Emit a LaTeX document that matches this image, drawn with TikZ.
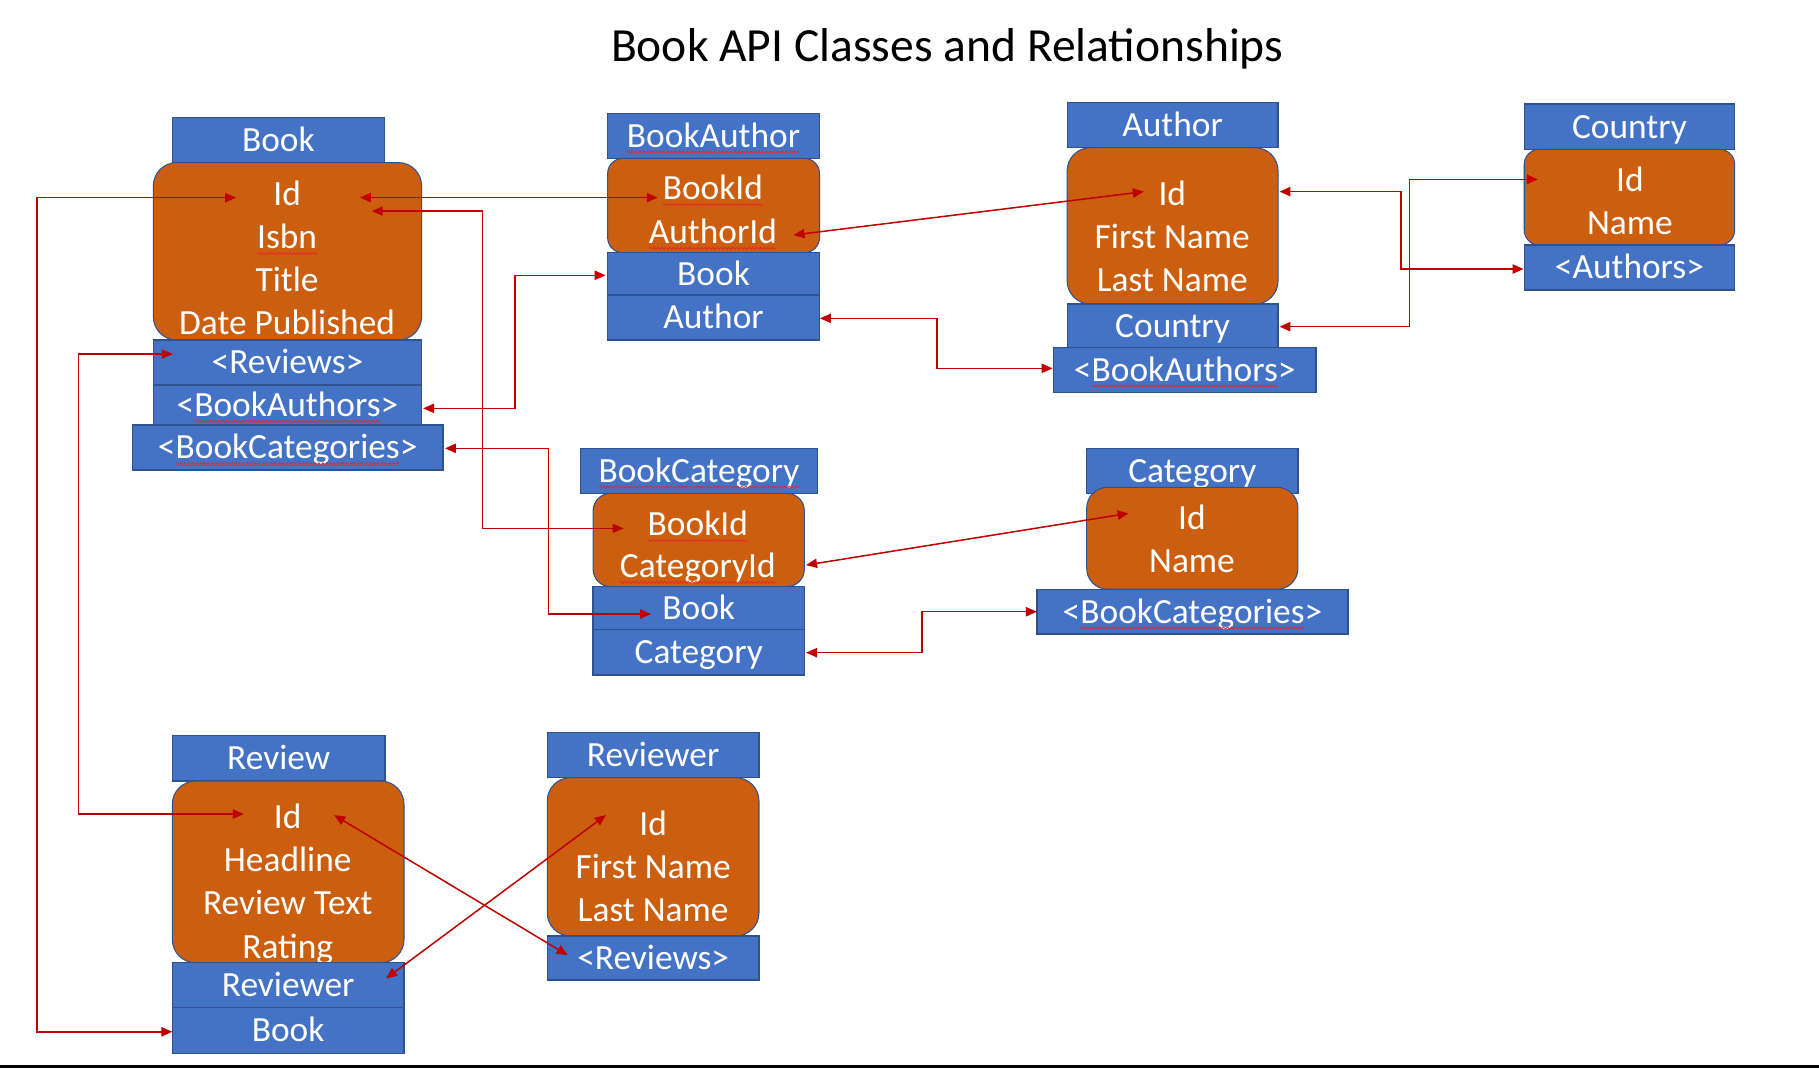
\documentclass[tikz,border=0pt]{standalone}
\usepackage{fontspec}
\setmainfont{Carlito}
\usetikzlibrary{arrows.meta,calc,decorations.pathmorphing}
\definecolor{ofblue}{HTML}{4472C4}
\definecolor{bdr}{HTML}{2F528F}
\definecolor{oforange}{HTML}{CB5F0F}
\definecolor{relred}{HTML}{C00000}
\definecolor{spellred}{HTML}{E8282A}
\newcommand{\fsz}{\fontsize{30.5pt}{37pt}\selectfont}
\newlength{\tmpw}
\newcommand{\measureword}[1]{%
  \settowidth{\tmpw}{\fsz #1}%
  \pgfmathsetmacro{\tmpv}{0.5*\tmpw}%
  \expandafter\xdef\csname sqw#1\endcsname{\tmpv}}
\newcommand{\squig}[2]{%
  \edef\sqhalf{\csname sqw#2\endcsname}%
  \draw[wavy] ($(#1)+(-\sqhalf,14)$) -- ($(#1)+(\sqhalf,14)$);}
\begin{document}
\measureword{Isbn}\measureword{BookAuthors}\measureword{BookCategories}%
\measureword{BookAuthor}\measureword{BookId}\measureword{AuthorId}%
\measureword{BookCategory}\measureword{CategoryId}%
\begin{tikzpicture}[x=1pt,y=-1pt,
  sec/.style 2 args={draw=bdr, fill=ofblue, line width=1.1pt, text=white, font=\fsz,
    inner sep=0pt, text height=22.6pt, text depth=3pt, minimum width=#1, minimum height=#2},
  body/.style 2 args={draw=bdr, fill=oforange, line width=0.9pt, rounded corners=20pt,
    inner sep=0pt, minimum width=#1, minimum height=#2},
  fld/.style={text=white, font=\fsz, inner sep=0pt, text height=22.6pt, text depth=3pt},
  rel/.style={draw=relred, line width=1.3pt, >={Triangle[length=9.5pt,width=8pt]}, <->},
  wavy/.style={draw=spellred, line width=0.7pt, decorate,
    decoration={snake, amplitude=0.9pt, segment length=3.4pt}}
]
\fill[white] (0,0) rectangle (1568,921);
\useasboundingbox (0,0) rectangle (1568,921);
\fill[black] (0,918.3) rectangle (1568,921);

\node[font=\fontsize{41pt}{48pt}\selectfont, inner sep=0pt, text height=30.3pt, text depth=4.1pt]
  (title) at (816.5,39.5) {Book API Classes and Relationships};

% ---------------- Book
\node[sec={182.3pt}{39.1pt}] (bk-h) at (240,120.6) {Book};
\node[body={231.2pt}{152.9pt}, rounded corners=20pt] (bk-b) at (247.8,216.6) {};
\node[fld] (bk-id) at (247.5,167) {Id};
\node[fld] (bk-isbn) at (247.5,204.5) {Isbn};
\node[fld] (bk-title) at (247.5,241.5) {Title};
\node[fld] (bk-date) at (247.5,278.5) {Date Published};
\node[sec={231.2pt}{38.8pt}] (bk-rev) at (247.8,312.5) {<Reviews>};
\node[sec={231.2pt}{34.5pt}] (bk-ba) at (247.8,349.2) {<BookAuthors>};
\node[sec={267.5pt}{38.8pt}] (bk-bc) at (248,385.8) {<BookCategories>};

% ---------------- BookAuthor
\node[sec={182.6pt}{38.8pt}] (ba-h) at (615.1,117.1) {BookAuthor};
\node[body={182.6pt}{81.3pt}, rounded corners=13pt] (ba-b) at (615.1,177.2) {};
\node[fld] (ba-bookid) at (614.5,162.5) {BookId};
\node[fld] (ba-authorid) at (614.5,200) {AuthorId};
\node[sec={182.6pt}{36.5pt}] (ba-book) at (615.1,236) {Book};
\node[sec={182.6pt}{38.8pt}] (ba-author) at (615.1,273.7) {Author};

% ---------------- Author
\node[sec={181.8pt}{38.8pt}] (au-h) at (1010.8,107.9) {Author};
\node[body={181.8pt}{134.8pt}, rounded corners=20pt] (au-b) at (1010.8,194.7) {};
\node[fld] (au-id) at (1010.5,167) {Id};
\node[fld] (au-first) at (1010.5,204.5) {First Name};
\node[fld] (au-last) at (1010.5,241.5) {Last Name};
\node[sec={181.8pt}{37.3pt}] (au-country) at (1010.8,280.8) {Country};
\node[sec={226pt}{38.8pt}] (au-ba) at (1021.3,318.8) {<BookAuthors>};

% ---------------- Country
\node[sec={181.4pt}{39pt}] (co-h) at (1404.6,109.2) {Country};
\node[body={181.4pt}{82.5pt}, rounded corners=13pt] (co-b) at (1404.6,170) {};
\node[fld] (co-id) at (1405,155.2) {Id};
\node[fld] (co-name) at (1405,192.5) {Name};
\node[sec={181.4pt}{38.8pt}] (co-au) at (1404.6,230.6) {<Authors>};

% ---------------- BookCategory
\node[sec={204.3pt}{38.8pt}] (bc-h) at (602.5,405.9) {BookCategory};
\node[body={182.1pt}{80.4pt}, rounded corners=15pt] (bc-b) at (602.3,465.5) {};
\node[fld] (bc-bookid) at (601.5,452) {BookId};
\node[fld] (bc-catid) at (601.5,488) {CategoryId};
\node[sec={182.1pt}{36.8pt}] (bc-book) at (602.3,524.1) {Book};
\node[sec={182.1pt}{39.4pt}] (bc-cat) at (602.3,562.2) {Category};

% ---------------- Category
\node[sec={182.1pt}{38.8pt}] (ca-h) at (1027.8,405.9) {Category};
\node[body={182.1pt}{87.9pt}, rounded corners=18pt] (ca-b) at (1027.8,464) {};
\node[fld] (ca-id) at (1027.5,446.8) {Id};
\node[fld] (ca-name) at (1027.5,484) {Name};
\node[sec={268.2pt}{38.6pt}] (ca-bc) at (1027.9,527.3) {<BookCategories>};

% ---------------- Review
\node[sec={183.3pt}{39.1pt}] (rv-h) at (240.2,653.7) {Review};
\node[body={199.7pt}{156.6pt}, rounded corners=20pt] (rv-b) at (248.4,751.6) {};
\node[fld] (rv-id) at (248,704) {Id};
\node[fld] (rv-head) at (248,741.2) {Headline};
\node[fld] (rv-text) at (248,778.5) {Review Text};
\node[fld] (rv-rating) at (248,816) {Rating};
\node[sec={199.7pt}{38.5pt}] (rv-reviewer) at (248.4,849.1) {Reviewer};
\node[sec={199.7pt}{39.6pt}] (rv-book) at (248.4,888.2) {Book};

% ---------------- Reviewer
\node[sec={182.5pt}{38.8pt}] (rr-h) at (563,651) {Reviewer};
\node[body={182.5pt}{136.5pt}, rounded corners=20pt] (rr-b) at (563,738.6) {};
\node[fld] (rr-id) at (563,710) {Id};
\node[fld] (rr-first) at (563,747.2) {First Name};
\node[fld] (rr-last) at (563,784.8) {Last Name};
\node[sec={182.5pt}{37.9pt}] (rr-rev) at (563,825.8) {<Reviews>};

% ---------------- spell-check underlines
\squig{bk-isbn}{Isbn}
\squig{bk-ba}{BookAuthors}
\squig{bk-bc}{BookCategories}
\squig{ba-h}{BookAuthor}
\squig{ba-bookid}{BookId}
\squig{ba-authorid}{AuthorId}
\squig{au-ba}{BookAuthors}
\squig{bc-h}{BookCategory}
\squig{bc-bookid}{BookId}
\squig{bc-catid}{CategoryId}
\squig{ca-bc}{BookCategories}

% ---------------- relationships
\draw[rel] ($(bk-id)+(62.7,3.3)$) -- ($(ba-bookid)+(-47.5,7.8)$);
\draw[rel] ($(bk-id)+(72.9,15)$) -- ++(95.6,0) |- ($(bc-bookid)+(-64,3.5)$);
\draw[rel] ($(bk-ba)+(116.9,2.8)$) -- ++(79.1,0) |- ($(ba-book)+(-93.1,1.3)$);
\draw[rel] ($(bk-bc)+(135.5,0.7)$) -- ++(89.3,0) |- ($(bc-book)+(-41.1,5.2)$);
\draw[rel] ($(ba-authorid)+(69.5,2.6)$) -- ($(au-id)+(-24.5,-1.8)$);
\draw[rel] ($(ba-author)+(91.7,0.7)$) -- ++(101.1,0) |- ($(au-ba)+(-113.9,-1.3)$);
\draw[rel] ($(au-id)+(92.4,-1.8)$) -- ++(104.9,0) |- ($(co-au)+(-91.3,1.3)$);
\draw[rel] ($(au-country)+(92.1,0.8)$) -- ++(111.9,0) |- ($(co-id)+(-79.4,-0.6)$);
\draw[rel] ($(bc-catid)+(93.3,-0.9)$) -- ($(ca-id)+(-54.6,-4.3)$);
\draw[rel] ($(bc-cat)+(92.5,0.4)$) -- ++(100,0) |- ($(ca-bc)+(-134.1,0)$);
\draw[rel] ($(bk-id)+(-44,3.4)$) -- ++(-171.8,0) |- ($(rv-book)+(-99.8,1.2)$);
\draw[rel] ($(bk-rev)+(-98.8,-7.3)$) -- ++(-81.5,0) |- ($(rv-id)+(-37.8,-2.3)$);
\draw[rel] ($(rv-id)+(40,-1.4)$) -- ($(rr-rev)+(-73.7,-2.5)$);
\draw[rel] ($(rv-reviewer)+(84.4,-5.7)$) -- ($(rr-id)+(-40.7,-7.4)$);
\end{tikzpicture}
\end{document}
